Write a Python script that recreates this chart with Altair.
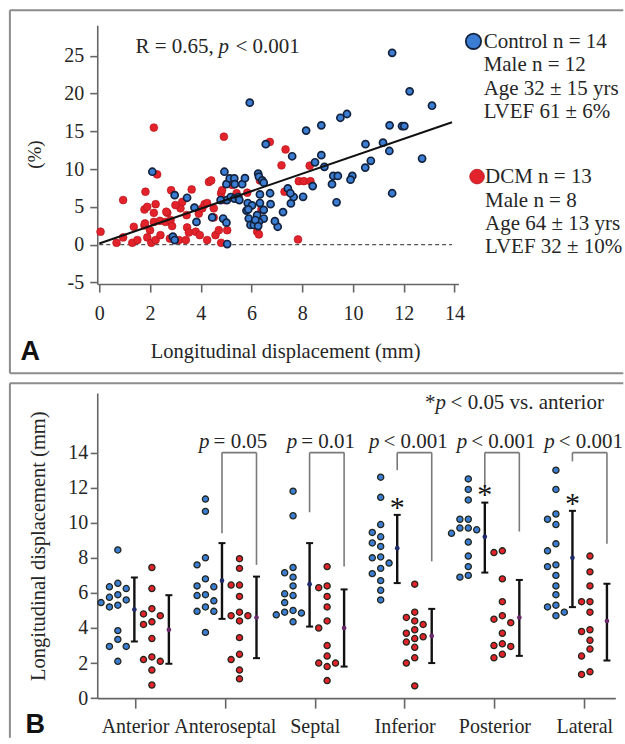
import json
import pandas as pd
import altair as alt

SERIF = "'Liberation Serif', 'Times New Roman', 'DejaVu Serif', serif"
SANS = "'Liberation Sans', Arial, sans-serif"
BLUE = "#3b7dd3"
BLUE_EDGE = "#13233f"
RED = "#e2232b"
RED_EDGE_A = "#b8161d"
AXIS = "#666666"
FRAME = "#8c8c8c"
INK = "#262626"

# ---------------- Panel A : scatter ----------------
ctrl_x = [11.54, 5.93, 12.23, 13.11, 9.76, 9.50, 8.15, 8.75, 11.44, 11.93, 12.02, 6.56, 7.60,
          10.49, 11.18, 11.43, 12.72, 10.70, 10.48, 8.75, 8.50, 8.87, 11.54, 9.35, 9.22, 9.40,
          9.97, 9.90, 9.17, 8.41, 8.03, 7.55, 7.66, 7.43, 7.53, 7.24, 7.03, 6.92, 6.73, 6.75,
          4.93, 5.01, 5.14, 5.32, 5.34, 5.63, 5.74, 5.03, 5.18, 5.33, 5.48, 5.52, 4.78, 5.85,
          5.80, 5.89, 5.96, 6.09, 6.26, 6.29, 6.42, 6.48, 6.33, 6.33, 6.48, 6.48, 6.29, 6.22,
          6.02, 5.87, 6.15, 6.26, 2.09, 2.97, 2.90, 2.97, 3.46, 3.75, 3.83, 4.45, 4.88, 5.01, 5.04]
ctrl_y = [25.4, 18.8, 20.3, 18.4, 17.3, 16.8, 15.1, 15.8, 15.8, 15.7, 15.7, 13.3, 11.7,
          13.3, 13.5, 12.4, 11.4, 11.1, 10.2, 11.85, 10.9, 10.3, 6.8, 5.6, 9.1, 9.1,
          9.1, 8.6, 8.0, 7.75, 6.33, 5.45, 6.3, 7.45, 6.8, 4.3, 2.36, 3.1, 6.8, 5.35,
          9.65, 8.0, 8.76, 8.76, 8.0, 8.0, 8.8, 5.9, 6.3, 6.1, 6.3, 5.9, 5.9, 5.5,
          4.5, 3.45, 2.6, 2.6, 9.4, 9.0, 8.5, 8.2, 6.65, 5.5, 4.6, 3.45, 3.0, 3.9,
          5.2, 4.66, 3.25, 2.45, 9.65, 6.55, 1.05, 0.6, 6.2, 4.9, 3.0, 3.6, 3.45, 2.9, 0.07]
dcm_x = [0.05, 0.68, 0.94, 0.94, 1.30, 1.36, 1.50, 1.82, 1.78, 1.89, 1.78, 1.89, 2.00, 2.05,
         2.15, 2.28, 2.22, 2.15, 2.15, 2.39, 2.22, 2.41, 2.61, 2.68, 2.81, 2.83, 2.87, 2.78,
         3.14, 3.20, 3.27, 3.41, 3.46, 3.53, 3.64, 3.44, 3.80, 3.92, 3.96, 4.06, 4.15, 4.25,
         4.25, 4.32, 4.41, 4.51, 4.51, 4.58, 4.71, 4.80, 4.80, 4.91, 5.04, 4.93, 5.24, 5.41,
         5.83, 6.22, 6.22, 6.29, 6.33, 6.72, 7.18, 7.34, 7.30, 7.83, 7.86, 8.06, 8.32, 8.29,
         4.84, 6.39, 2.64, 1.80, 3.00]
dcm_y = [1.7, 0.24, 5.9, 0.95, 0.24, 2.36, 0.6, 7.0, 4.65, 5.0, 2.54, 0.95, 1.9, 0.24,
         15.5, 9.3, 5.35, 4.2, 3.0, 3.15, 0.6, 1.25, 3.0, 4.2, 3.25, 7.2, 2.45, 0.8,
         0.6, 4.8, 5.65, 0.6, 2.27, 1.6, 7.3, 3.9, 1.7, 4.1, 1.25, 4.8, 5.35, 5.5,
         0.6, 8.3, 8.5, 4.8, 3.6, 1.25, 1.9, 6.8, 0.24, 14.3, 1.9, 5.9, 7.9, 6.8,
         6.87, 3.45, 1.7, 1.35, 8.5, 13.6, 10.5, 12.6, 7.0, 0.68, 8.4, 8.4, 8.4, 10.45,
         7.2, 4.66, 4.35, 2.8, 5.23]
reg_intercept = 0.15
reg_slope = 1.155
reg_x = [0.0, 13.9]
zero_x = [0.0, 13.9]
a_xticks = [0, 2, 4, 6, 8, 10, 12, 14]
a_yticks = [-5, 0, 5, 10, 15, 20, 25]
stat_text = ["R = 0.65,", "p", "< 0.001"]
ctrl_legend = ["Control n = 14", "Male n = 12", "Age 32 \u00b1 15 yrs", "LVEF 61 \u00b1 6%"]
dcm_legend = ["DCM n = 13", "Male n = 8", "Age 64 \u00b1 13 yrs", "LVEF 32 \u00b1 10%"]

# ---------------- Panel B : dot plots ----------------
segments = ["Anterior", "Anteroseptal", "Septal", "Inferior", "Posterior", "Lateral"]
ctrl_anterior = [8.45, 6.55, 6.35, 6.25, 5.9, 5.75, 5.6, 5.45, 5.3, 5.2, 3.85, 3.35, 2.95, 2.95, 2.1]
ctrl_anteroseptal = [11.35, 10.65, 8.0, 7.6, 6.8, 6.4, 6.35, 5.9, 5.85, 5.55, 5.2, 4.95, 4.95, 3.75]
ctrl_septal = [11.8, 10.4, 7.45, 7.15, 6.9, 6.4, 5.95, 5.85, 5.45, 5.0, 4.9, 4.85, 4.75, 4.35]
ctrl_inferior = [12.6, 11.45, 9.9, 9.45, 9.2, 8.85, 8.65, 8.05, 8.0, 7.7, 7.4, 7.1, 6.7, 6.15, 5.6]
ctrl_posterior = [12.5, 11.9, 11.3, 10.2, 10.2, 9.7, 9.7, 9.6, 9.4, 8.9, 8.1, 7.5, 7.0, 6.9]
ctrl_lateral = [13.0, 11.9, 10.5, 10.2, 9.9, 8.8, 8.4, 7.6, 7.5, 7.0, 6.4, 5.9, 5.3, 5.2, 4.9, 4.7]
dcm_anterior = [7.45, 6.25, 5.1, 4.8, 4.7, 4.35, 4.2, 3.4, 2.35, 2.2, 2.1, 1.6, 0.75]
dcm_anteroseptal = [7.95, 7.4, 6.45, 6.45, 5.8, 4.9, 4.7, 4.7, 4.4, 3.45, 2.5, 2.2, 1.6, 1.1]
dcm_septal = [7.5, 6.4, 6.3, 5.8, 5.2, 4.4, 4.0, 3.0, 2.4, 2.0, 2.0, 1.8, 1.0]
dcm_inferior = [6.5, 4.9, 4.6, 4.4, 4.2, 3.9, 3.7, 3.5, 3.4, 3.2, 2.9, 2.3, 2.0, 0.7]
dcm_posterior = [8.4, 8.3, 6.8, 5.5, 4.7, 4.5, 4.3, 3.7, 3.1, 3.0, 2.95, 2.5, 2.3]
dcm_lateral = [8.1, 7.2, 6.4, 5.5, 5.5, 4.9, 3.9, 3.8, 3.3, 2.8, 2.4, 1.5, 1.35]
ctrl_vals = [ctrl_anterior, ctrl_anteroseptal, ctrl_septal, ctrl_inferior, ctrl_posterior, ctrl_lateral]
dcm_vals = [dcm_anterior, dcm_anteroseptal, dcm_septal, dcm_inferior, dcm_posterior, dcm_lateral]

ctrl_mean = [5.05, 6.7, 6.5, 8.55, 9.2, 8.0]
ctrl_low = [3.23, 4.52, 4.08, 6.56, 7.16, 5.19]
ctrl_high = [6.88, 8.84, 8.84, 10.45, 11.15, 10.68]
dcm_mean = [3.9, 4.6, 4.0, 3.55, 4.6, 4.4]
dcm_low = [1.96, 2.28, 1.8, 2.0, 2.41, 2.15]
dcm_high = [5.87, 6.93, 6.2, 5.09, 6.74, 6.52]

bracket_segments = ["Anteroseptal", "Septal", "Inferior", "Posterior", "Lateral"]
bracket_ops = ["= 0.05", "= 0.01", "< 0.001", "< 0.001", "< 0.001"]
bracket_top = 14.0
bracket_left_end = [9.4, 10.6, 13.0, 12.0, 13.5]
bracket_right_end = [7.6, 7.5, 7.8, 9.5, 8.8]
star_segments = ["Inferior", "Posterior", "Lateral"]
b_yticks = [0, 2, 4, 6, 8, 10, 12, 14]
note_text = ["*", "p", "< 0.05 vs. anterior"]

# ---------------- geometry ----------------
A_W, A_H = 361.3, 259.0
B_W, B_H = 518.3, 305.3
A_XDOM = [-0.08, 14.15]
A_YDOM = [-5.23, 29.07]
B_XDOM = [0.58, 6.345]
B_YDOM = [0.0, 17.4]
B_PPU_X = B_W / (B_XDOM[1] - B_XDOM[0])
B_PPU_Y = B_H / (B_YDOM[1] - B_YDOM[0])
GROUP_STEP = 0.975
OFF_CTRL_PTS, OFF_CTRL_BAR, OFF_DCM_PTS, OFF_DCM_BAR = -0.184, 0.0, 0.195, 0.384
DOT_D = 8.4

one = pd.DataFrame({"k": [0]})


def swarm(vals, d=DOT_D, ppu=B_PPU_Y):
    placed = []
    res = [0.0] * len(vals)
    order = sorted(range(len(vals)), key=lambda k: -vals[k])
    cands = [0.0]
    for j in range(1, 8):
        cands += [-j * d, j * d]
    for k in order:
        yy = vals[k] * ppu
        chosen = cands[-1]
        for c in cands:
            if all((c - px) ** 2 + (yy - py) ** 2 >= (0.98 * d) ** 2 for px, py in placed):
                chosen = c
                break
        placed.append((chosen, yy))
        res[k] = chosen
    return res


def base_of(i):
    return 1 + GROUP_STEP * i - 0.007


def frame(x0, x1, y0, y1, with_bottom):
    layers = [
        alt.Chart(one).mark_rule(color=FRAME, strokeWidth=2).encode(
            x=alt.value(x0), y=alt.value(y0), y2=alt.value(y1)),
        alt.Chart(one).mark_rule(color=FRAME, strokeWidth=2).encode(
            x=alt.value(x0), x2=alt.value(x1), y=alt.value(y0)),
    ]
    if with_bottom:
        layers.append(alt.Chart(one).mark_rule(color=FRAME, strokeWidth=2).encode(
            x=alt.value(x0), x2=alt.value(x1), y=alt.value(y1)))
    return layers


def txt(x, y, s, size=21, style="normal", align="left", font=SERIF, weight="normal", color=INK, **kw):
    return alt.Chart(one).mark_text(font=font, fontSize=size, fontStyle=style, fontWeight=weight,
                                    align=align, baseline="alphabetic", color=color, **kw).encode(
        x=alt.value(x), y=alt.value(y), text=alt.value(s))


axis_common = dict(grid=False, domainColor=AXIS, domainWidth=1.6, tickColor=AXIS, tickWidth=1.6,
                   labelFont=SERIF, labelFontSize=20, labelColor=INK, titleFont=SERIF,
                   titleFontWeight="normal", titleColor=INK, labelOverlap=False, labelFlush=False)

# ---------- Panel A ----------
xA = alt.X("x:Q", scale=alt.Scale(domain=A_XDOM, nice=False, zero=False),
           axis=alt.Axis(values=a_xticks, title="Longitudinal displacement (mm)", tickSize=8,
                         labelPadding=27, labelBaseline="alphabetic", titleFontSize=20.5,
                         titleX=188, titleY=73, titleBaseline="alphabetic", titleAlign="center",
                         **axis_common))
yA = alt.Y("y:Q", scale=alt.Scale(domain=A_YDOM, nice=False, zero=False),
           axis=alt.Axis(values=a_yticks, title="(%)", tickSize=7.5, labelPadding=6,
                         labelExpr="replace(datum.label, '\u2212', '-')", titleFontSize=19,
                         titleAngle=270, titleX=-56.7, titleY=129, titleBaseline="alphabetic",
                         titleAlign="center", **axis_common))

zero_df = pd.DataFrame({"x": [zero_x[0]], "x2": [zero_x[1]], "y": [0.0]})
reg_df = pd.DataFrame({"x": reg_x, "y": [reg_intercept + reg_slope * v for v in reg_x]})
ctrl_df = pd.DataFrame({"x": ctrl_x, "y": ctrl_y})
dcm_df = pd.DataFrame({"x": dcm_x, "y": dcm_y})

zero_line = alt.Chart(zero_df).mark_rule(color="#555", strokeWidth=1.2, strokeDash=[4, 3]).encode(
    x=xA, x2="x2:Q", y=yA)
dcm_pts = alt.Chart(dcm_df).mark_circle(size=60, color=RED, opacity=1, stroke=RED_EDGE_A,
                                        strokeWidth=0.7).encode(x=xA, y=yA)
ctrl_pts = alt.Chart(ctrl_df).mark_circle(size=50, color=BLUE, opacity=1, stroke=BLUE_EDGE,
                                          strokeWidth=1.7).encode(x=xA, y=yA)
reg_line = alt.Chart(reg_df).mark_line(color="#111", strokeWidth=2).encode(x=xA, y=yA)

legend_ctrl_dot = alt.Chart(one).mark_circle(size=235, color=BLUE, opacity=1, stroke=BLUE_EDGE,
                                             strokeWidth=1.8).encode(x=alt.value(376.4), y=alt.value(16.2))
legend_dcm_dot = alt.Chart(one).mark_circle(size=215, color=RED, opacity=1, stroke=RED_EDGE_A,
                                            strokeWidth=0.8).encode(x=alt.value(380.0), y=alt.value(151.5))
legend_ctrl_txt = txt(386.6, 23, ctrl_legend, lineHeight=23.3)
legend_dcm_txt = txt(388.0, 158.3, dcm_legend, lineHeight=23.3)

panel_a = alt.layer(
    *frame(-87.4, 526.3, -15, 348.3, True),
    zero_line, dcm_pts, ctrl_pts, reg_line,
    txt(38.3, 28.3, stat_text[0]),
    txt(121.3, 28.3, stat_text[1], style="italic"),
    txt(138.3, 28.3, stat_text[2]),
    legend_ctrl_dot, legend_dcm_dot, legend_ctrl_txt, legend_dcm_txt,
    txt(-76.7, 335, "A", size=27, font=SANS, weight="bold", color="#111"),
).properties(width=A_W, height=A_H)

# ---------- Panel B ----------
label_expr = "%s[datum.value - 1]" % json.dumps(segments)
xB = alt.X("x:Q", scale=alt.Scale(domain=B_XDOM, nice=False, zero=False),
           axis=alt.Axis(values=list(range(1, len(segments) + 1)), labelExpr=label_expr, title=None,
                         tickSize=10, labelPadding=24.4, labelBaseline="alphabetic", **axis_common))
yB = alt.Y("y:Q", scale=alt.Scale(domain=B_YDOM, nice=False, zero=False),
           axis=alt.Axis(values=b_yticks, title="Longitudinal displacement (mm)", tickSize=7,
                         labelPadding=2.5, titleFontSize=20.5, titleAngle=270, titleX=-53.2,
                         titleY=152.8, titleBaseline="alphabetic", titleAlign="center", **axis_common))

pts_rows, bar_rows, cap_rows = [], [], []
for i, seg in enumerate(segments):
    b = base_of(i)
    for grp, vals, off in (("Control", ctrl_vals[i], OFF_CTRL_PTS), ("DCM", dcm_vals[i], OFF_DCM_PTS)):
        for v, o in zip(vals, swarm(vals)):
            pts_rows.append({"x": b + off + o / B_PPU_X, "y": v, "group": grp})
    for grp, off, m, lo, hi in (("Control", OFF_CTRL_BAR, ctrl_mean[i], ctrl_low[i], ctrl_high[i]),
                                ("DCM", OFF_DCM_BAR, dcm_mean[i], dcm_low[i], dcm_high[i])):
        bar_rows.append({"x": b + off, "y": m, "low": lo, "high": hi, "group": grp})
        cap_rows.append({"x": b + off, "y": lo})
        cap_rows.append({"x": b + off, "y": hi})
pts_df = pd.DataFrame(pts_rows)
bar_df = pd.DataFrame(bar_rows)
cap_df = pd.DataFrame(cap_rows)

CHAR_W = {"=": 0.564, "<": 0.564, " ": 0.25, "0": 0.5, ".": 0.25, "1": 0.5, "5": 0.5}
FS = 21
br_rows, p_rows = [], []
for j, seg in enumerate(bracket_segments):
    i = segments.index(seg)
    b = base_of(i)
    x1, x2 = b + OFF_CTRL_BAR, b + OFF_DCM_BAR
    br_rows.append({"x": x1, "x2": x2, "y": bracket_top, "yl": bracket_left_end[j],
                    "yr": bracket_right_end[j]})
    w_rest = sum(CHAR_W.get(c, 0.5) for c in bracket_ops[j]) * FS
    total = 0.5 * FS + 4 + w_rest
    center = (x1 + x2) / 2 - 6 / B_PPU_X
    xp = center - (total / 2) / B_PPU_X
    p_rows.append({"x": xp, "xr": xp + (0.5 * FS + 4) / B_PPU_X, "y": 14.27, "op": bracket_ops[j]})
br_df = pd.DataFrame(br_rows)
p_df = pd.DataFrame(p_rows)
star_df = pd.DataFrame({
    "x": [base_of(segments.index(s)) + OFF_CTRL_BAR for s in star_segments],
    "y": [ctrl_high[segments.index(s)] + 0.7 for s in star_segments],
})

grp_fill = alt.Color("group:N", scale=alt.Scale(domain=["Control", "DCM"], range=[BLUE, RED]), legend=None)

dots_b = alt.Chart(pts_df).mark_circle(size=38, opacity=1, stroke="#23261c", strokeWidth=1.3).encode(
    x=xB, y=yB, color=grp_fill)
err_rule = alt.Chart(bar_df).mark_rule(color="#111", strokeWidth=2.4).encode(
    x=xB, y=alt.Y("low:Q", scale=alt.Scale(domain=B_YDOM, nice=False, zero=False)), y2="high:Q")
err_caps = alt.Chart(cap_df).mark_tick(orient="horizontal", size=7, thickness=2, color="#111", opacity=1).encode(
    x=xB, y=yB)
mid_ctrl = alt.Chart(bar_df[bar_df.group == "Control"]).mark_circle(
    size=22, opacity=1, color="#1d2a6b").encode(x=xB, y=yB)
mid_dcm = alt.Chart(bar_df[bar_df.group == "DCM"]).mark_circle(
    size=22, opacity=1, color="#6a2a6a").encode(x=xB, y=yB)

br_left = alt.Chart(br_df).mark_rule(color="#7a7a7a", strokeWidth=1.6).encode(x=xB, y=yB, y2="yl:Q")
br_right = alt.Chart(br_df).mark_rule(color="#7a7a7a", strokeWidth=1.6).encode(
    x=alt.X("x2:Q", scale=alt.Scale(domain=B_XDOM, nice=False, zero=False)), y=yB, y2="yr:Q")
br_top = alt.Chart(br_df).mark_rule(color="#7a7a7a", strokeWidth=1.6).encode(x=xB, x2="x2:Q", y=yB)
p_italic = alt.Chart(p_df).mark_text(font=SERIF, fontSize=FS, fontStyle="italic", align="left",
                                     baseline="alphabetic", color=INK).encode(x=xB, y=yB, text=alt.value("p"))
p_rest = alt.Chart(p_df).mark_text(font=SERIF, fontSize=FS, align="left", baseline="alphabetic",
                                   color=INK).encode(
    x=alt.X("xr:Q", scale=alt.Scale(domain=B_XDOM, nice=False, zero=False)), y=yB, text="op:N")
stars = alt.Chart(star_df).mark_text(font=SERIF, fontSize=30, align="center", baseline="alphabetic",
                                     dy=14, color="#111").encode(x=xB, y=yB, text=alt.value("*"))

panel_b = alt.layer(
    *frame(-87.4, 526.3, -9.7, 345, False),
    dots_b, err_rule, err_caps, mid_ctrl, mid_dcm, br_left, br_right, br_top, p_italic, p_rest, stars,
    txt(338.3, 16.3, note_text[0], align="right"),
    txt(338.3, 16.3, note_text[1], style="italic"),
    txt(353.5, 16.3, note_text[2]),
    txt(-71.7, 339.7, "B", size=27, font=SANS, weight="bold", color="#111"),
).properties(width=B_W, height=B_H)

chart = alt.vconcat(panel_a, panel_b, spacing=109, bounds="flush").configure_view(
    stroke=None).properties(padding={"left": 8.3, "top": 9, "right": 0, "bottom": 0},
                            background="white")

chart.save("out.html", embed_options={"renderer": "svg", "actions": False})
